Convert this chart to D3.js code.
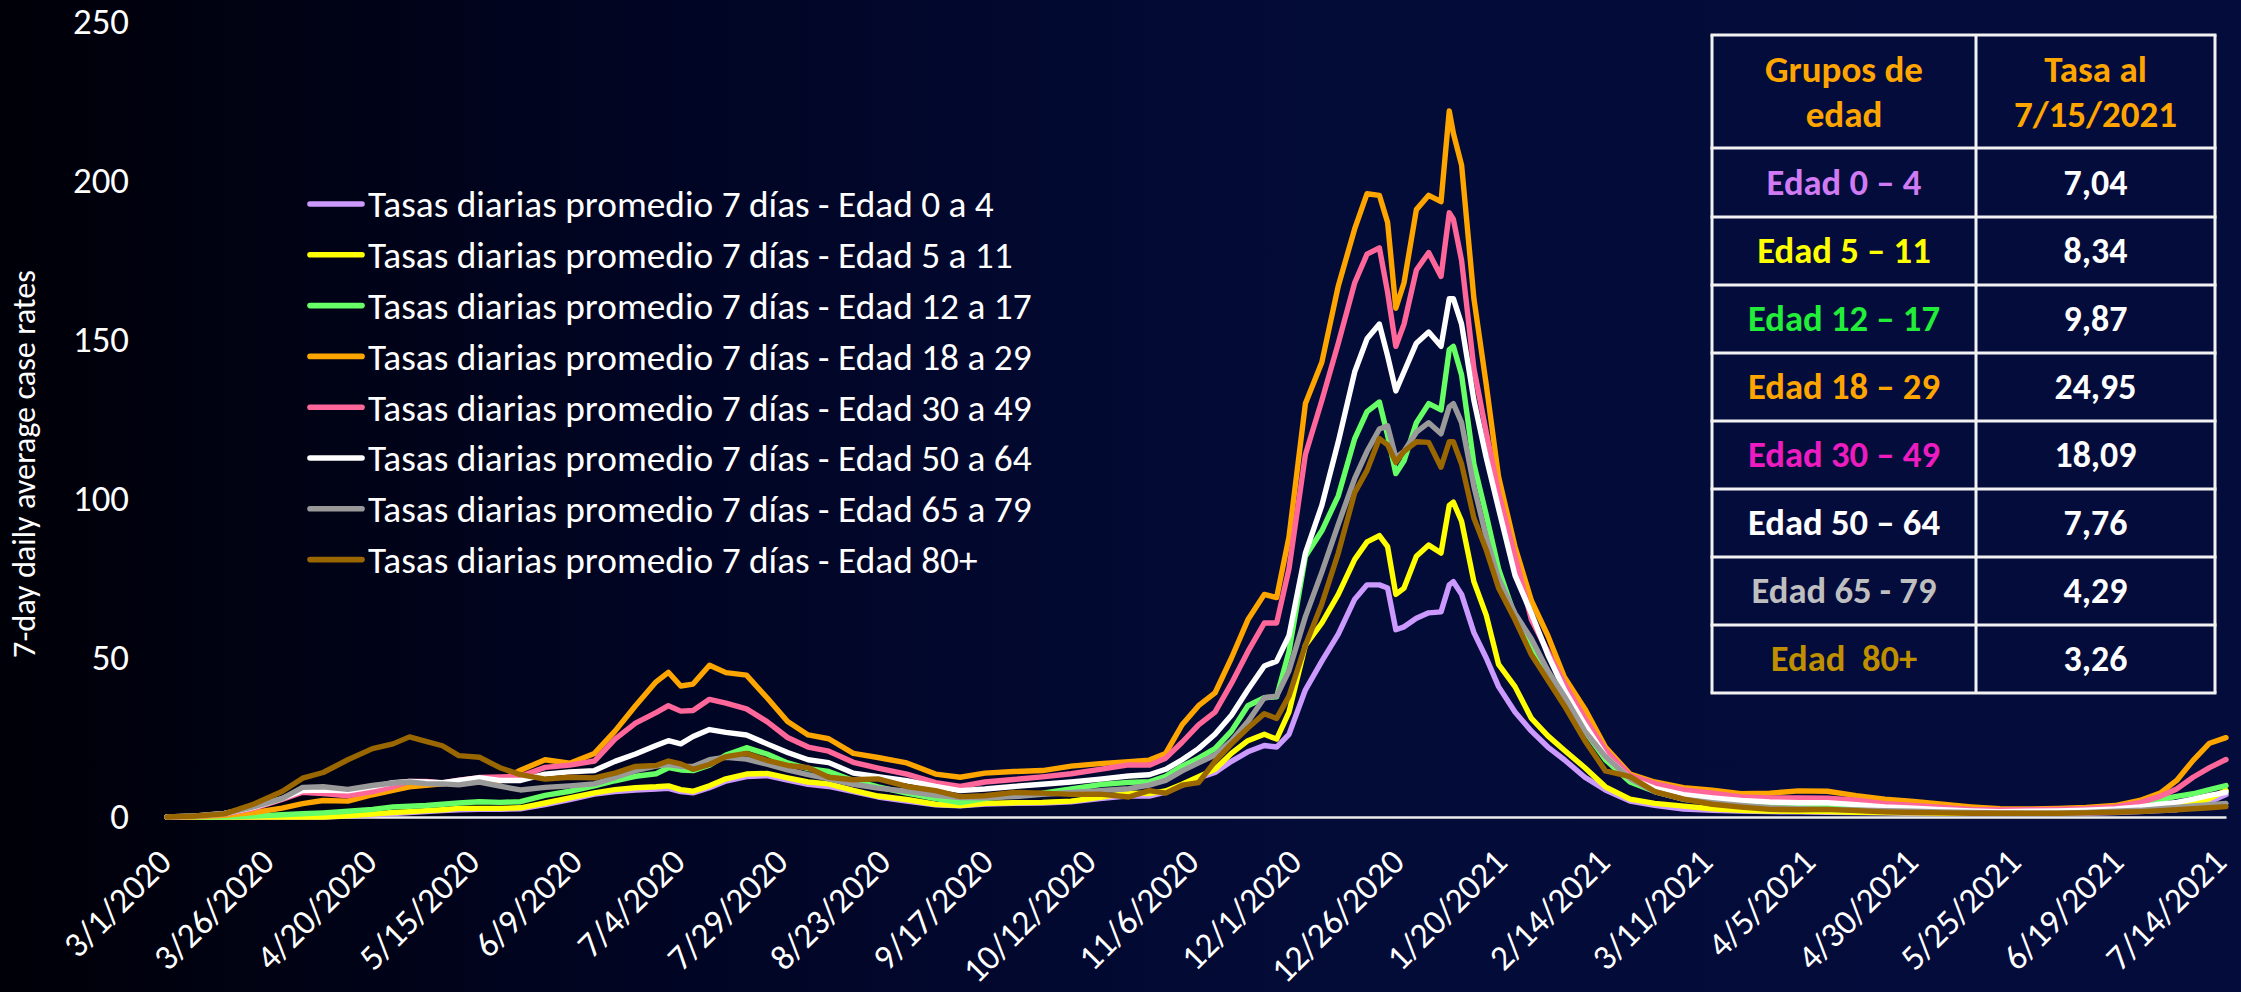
<!DOCTYPE html>
<html>
<head>
<meta charset="utf-8">
<script src="https://cdn.jsdelivr.net/npm/d3@7"></script>
<style>
  html, body { margin: 0; padding: 0; background: #000008; overflow: hidden; }
  text { font-family: Carlito, Lato, "Open Sans", sans-serif; }
</style>
</head>
<body>
<div id="chart"></div>
<script>
const W = 2241, H = 992;

// ---- data ----
const startDate = "3/1/2020";
const lastDate = "7/15/2021";
// days after 3/1/2020 for every sampled point
const dayOffsets = [0,7,14,21,28,33,38,44,50,55,
  59,63,67,71,76,81,86,92,98,104,
  109,114,119,122,125,128,132,136,141,146,
  151,156,161,167,173,180,187,193,199,206,
  213,220,227,234,239,243,247,251,255,259,
  263,267,270,273,277,281,285,289,292,295,
  297,299,301,304,307,310,312,313,315,318,
  321,324,328,332,336,340,345,350,356,362,
  369,376,383,390,397,404,411,418,425,432,
  439,446,453,460,467,474,480,485,489,493,
  497,501];

const age0to4 = [0,0,0,0,0,0,0,0.3,0.7,1.1,
  1.4,1.7,2,2.3,2.4,2.4,2.6,3.9,5.5,7.2,
  8,8.5,8.8,9,8,7.6,9.2,11.3,12.7,13,
  11.6,10.3,9.6,8,6.3,5,3.8,3.5,4.1,4.3,
  4.4,4.8,5.8,6.7,6.6,7.8,10,12.3,14,17.5,
  20.5,22.5,22,26,40,49,57.5,68.5,73,73,
  72,58.9,59.8,62.5,64.2,64.5,73,74,70,58,
  50,41,33,27,22,18,12.5,8.5,5,3.7,
  2.5,2.1,1.9,1.7,1.6,1.5,1.4,1.3,1.2,1.2,
  1.2,1.2,1.2,1.2,1.2,1.4,1.7,2,2.3,3.2,
  4.8,7.04];
const age5to11 = [0,0,0,0,0,0,0,0.4,0.9,1.4,
  1.7,2,2.3,2.7,2.7,2.7,2.9,4.4,6,7.6,
  8.6,9.2,9.5,9.8,8.6,8.1,9.8,12,13.5,13.7,
  12.3,11,10.4,8.4,6.6,5.5,4,3.6,4.3,4.5,
  4.6,5,6.2,7.5,7.4,8.2,10.3,12.7,15,20,
  24,26,24.5,33,54,61,70,81,86.5,88.5,
  85,70,72,82,85.5,83,98,99,93,74,
  63.5,48,41,31,25.5,21,15.5,9.5,5.6,4.3,
  3.4,2.6,2.1,1.9,1.8,1.7,1.5,1.4,1.3,1.2,
  1.2,1.2,1.3,1.4,1.6,1.8,2.3,2.8,3.3,4.2,
  5.8,8.34];
const age12to17 = [0,0,0.1,0.3,0.7,1,1.3,1.8,2.4,3.2,
  3.4,3.6,4,4.4,4.8,4.6,4.8,6.8,8.1,9.8,
  11.4,12.8,13.6,15.5,14.8,14.6,16.3,19.5,21.8,19.8,
  17,15.2,14.3,11.5,9.5,7.5,5.8,4.5,5.8,6.8,
  7.5,8.8,10.2,10.9,11.1,12.8,16,18.5,21.5,27,
  35,37.5,37.8,52,82,90,101,119,127.5,130.5,
  120,108,112,124,130,128,147,148,139,111,
  95,78,63,53,45,37,27,18,11,8,
  5.6,4.8,4.3,3.9,3.7,3.6,3.2,2.7,2.3,2,
  1.7,1.5,1.5,1.5,1.8,2.5,4,5.5,6.5,7.3,
  8.6,9.87];
const age18to29 = [0,0.1,0.5,1.4,2.8,4.2,5.2,5,7,8.4,
  9.5,10,10.4,11,11.7,11.3,14.7,18,16.9,20,
  27,35,42.5,45.5,41.2,41.8,47.7,45.4,44.6,37.5,
  30,25.8,24.6,20,18.7,17,13.5,12.5,13.8,14.3,
  14.6,16,16.8,17.4,17.9,20,29,35,39,50,
  62,70,69,88,130,143,167,185,196,195.5,
  187,160,168,191,195.5,193.5,222,215,205,163,
  136,107,85,68,57,44,34,22,13.5,11,
  9.2,8.4,7.3,7.5,8.2,8.1,6.7,5.6,4.9,4,
  3.2,2.6,2.5,2.7,3,3.6,5.2,7.5,11.5,17.8,
  23.2,24.95];
const age30to49 = [0,0.2,0.9,2.7,5.5,7.8,7.4,6.7,8,9.5,
  11.2,11.2,10.7,11.6,12.4,12.6,12.8,15.6,16.3,17.6,
  24.5,29.5,32.8,35,33.3,33.5,37,35.8,34,30,
  25,22,20.7,17.2,15.4,13.5,10.8,9.6,11,11.8,
  12.6,13.6,15,16.4,16.3,18.5,23.5,29,33,42,
  52,61,61,78,114,131,149,168,177,179,
  165,148,155,172,177.5,170,190,188,175,141,
  121,102,82,62,52,42,31,21,13,10.5,
  8.5,7.5,6.3,6,6,5.9,5.3,4.2,3.6,3,
  2.4,2.2,2.3,2.4,2.6,3.2,4.5,6.5,8.8,12.5,
  15.5,18.09];
const age50to64 = [0,0.3,1.1,3,5.8,8.3,8.5,8.2,9.5,10.8,
  11.2,11,10.8,11.5,12.4,11.5,11.5,13.5,14.2,14.6,
  17.5,19.8,22.5,24,23,25.3,27.5,26.6,25.8,23,
  20.3,18,17.1,13.8,12.7,11.4,9.6,8.3,8.8,9.6,
  10.3,11,11.9,12.9,13.3,15,18,21.5,26,32,
  40,47.5,49,57,83,98,118,140,150.4,155,
  145,134,140,149,152.5,148,163,163,155,131,
  113,97,76,64,51,40,29,19,12,9,
  7,6,5.2,4.7,4.5,4.5,3.9,3.2,2.8,2.3,
  1.9,1.7,1.8,1.9,2.1,2.5,3.2,4,4.6,5.6,
  6.8,7.76];
const age65to79 = [0,0.3,1.1,3.2,5.8,9.3,9.5,8.7,9.9,10.7,
  11,10.5,10.4,10.1,11,9.7,8.5,9.3,9.8,10.4,
  12.4,14.6,16,16.5,15.9,15.9,18,18.8,18.2,16.6,
  14.8,13.3,12,10.3,9.1,8.1,6.8,6.1,6,6.4,
  7.1,7.7,8.3,8.9,10,11.5,14.5,17,19.5,24,
  30,37.5,38,46,63,77,92,106.5,115,122,
  123,113,115,121,124,120.5,129,130,124,104,
  88,75,64,56,46,38,27,19,12,8,
  5.6,4.5,3.6,2.9,2.6,2.4,2.2,2,1.8,1.6,
  1.4,1.3,1.2,1.2,1.4,1.8,2.1,2.6,3,3.5,
  3.9,4.29];
const age80plus = [0,0.3,1,4,8,12.2,14,18,21.5,23,
  25.2,23.8,22.4,19.3,18.8,15.5,13.3,11.9,12.5,12.3,
  13.8,15.9,16.2,17.6,16.7,15,16.5,19,20,17.8,
  16.2,15.5,12.5,11.7,12,9.6,8.3,6.4,6.7,7.7,
  7.5,7.1,7.2,6.3,8.3,7.5,10,10.8,17.5,23,
  28,32.5,31,38,54,67,83,102,109,119,
  117,111.5,115,118,117.8,110,118,118,111,94,
  84,72,62,51,43,35,24,14.5,12.7,8,
  5.6,4,3.1,2.4,2.3,2.4,2,1.6,1.4,1.3,
  1.2,1.2,1.2,1.2,1.3,1.5,1.7,2,2.3,2.6,
  2.9,3.26];

const seriesNames = [
  "Tasas diarias promedio 7 días - Edad 0 a 4",
  "Tasas diarias promedio 7 días - Edad 5 a 11",
  "Tasas diarias promedio 7 días - Edad 12 a 17",
  "Tasas diarias promedio 7 días - Edad 18 a 29",
  "Tasas diarias promedio 7 días - Edad 30 a 49",
  "Tasas diarias promedio 7 días - Edad 50 a 64",
  "Tasas diarias promedio 7 días - Edad 65 a 79",
  "Tasas diarias promedio 7 días - Edad 80+"
];
const seriesValues = [age0to4, age5to11, age12to17, age18to29, age30to49, age50to64, age65to79, age80plus];
const seriesColors = ["#cc99ff", "#ffff00", "#66ff66", "#ffa500", "#ff6699", "#ffffff", "#999999", "#996600"];

const yTicks = [0, 50, 100, 150, 200, 250];
const xTickLabels = ["3/1/2020","3/26/2020","4/20/2020","5/15/2020","6/9/2020","7/4/2020","7/29/2020",
  "8/23/2020","9/17/2020","10/12/2020","11/6/2020","12/1/2020","12/26/2020","1/20/2021","2/14/2021",
  "3/11/2021","4/5/2021","4/30/2021","5/25/2021","6/19/2021","7/14/2021"];
const yTitle = "7-day daily average case rates";

const tableHead = [["Grupos de", "edad"], ["Tasa al", "7/15/2021"]];
const tableGroups = ["Edad 0 \u2013 4", "Edad 5 \u2013 11", "Edad 12 \u2013 17", "Edad 18 \u2013 29",
  "Edad 30 \u2013 49", "Edad 50 \u2013 64", "Edad 65 - 79", "Edad\u00a0 80+"];
const tableRates = ["7,04", "8,34", "9,87", "24,95", "18,09", "7,76", "4,29", "3,26"];
const tableColors = ["#d07bf3", "#ffff00", "#22ee3a", "#ffa500", "#ec1cc0", "#ffffff", "#bfbfbf", "#bf8f00"];

// ---- drawing ----
function draw() {
  const parse = d3.utcParse("%m/%d/%Y");
  const t0 = parse(startDate);

  const svg = d3.select("#chart").append("svg")
    .attr("width", W).attr("height", H);

  const grad = svg.append("defs").append("linearGradient")
    .attr("id", "bg").attr("x1", 0).attr("y1", 0).attr("x2", 1).attr("y2", 0);
  grad.append("stop").attr("offset", 0).attr("stop-color", "#000008");
  grad.append("stop").attr("offset", 0.3).attr("stop-color", "#010524");
  grad.append("stop").attr("offset", 0.58).attr("stop-color", "#030b37");
  grad.append("stop").attr("offset", 1).attr("stop-color", "#040c3c");
  svg.append("rect").attr("width", W).attr("height", H).attr("fill", "url(#bg)");

  const x = d3.scaleUtc().domain([t0, parse(lastDate)]).range([167, 2226]);
  const y = d3.scaleLinear().domain([0, 250]).range([817, 22]);

  // fit a font size so that a text node reaches the width measured in the picture
  function fit(sel, target) {
    const fs = parseFloat(sel.attr("font-size"));
    const w = sel.node().getComputedTextLength();
    return fs * target / w;
  }

  // y axis
  const yAxis = svg.append("g")
    .attr("transform", "translate(129,0)")
    .call(d3.axisLeft(y).tickValues(yTicks).tickSize(0).tickPadding(0));
  yAxis.select(".domain").remove();
  yAxis.selectAll("text").attr("fill", "#fff").attr("font-size", 34).attr("font-family", null);
  const ySize = fit(yAxis.selectAll("text").filter(d => d === 250), 56);
  yAxis.selectAll("text").attr("font-size", ySize);

  // y title
  const yt = svg.append("text")
    .attr("transform", "translate(35,464) rotate(-90)")
    .attr("text-anchor", "middle")
    .attr("fill", "#fff")
    .attr("font-size", 28)
    .text(yTitle);
  yt.attr("font-size", fit(yt, 388));

  // x axis
  const xAxis = svg.append("g")
    .attr("transform", "translate(0,817)")
    .call(d3.axisBottom(x)
      .tickValues(xTickLabels.map(parse))
      .tickFormat((d, i) => xTickLabels[i])
      .tickSize(0).tickSizeOuter(0));
  xAxis.select(".domain").attr("stroke", "#ececec").attr("stroke-width", 2.5);
  xAxis.selectAll("text")
    .attr("fill", "#fff")
    .attr("font-family", null)
    .attr("font-size", 33)
    .attr("text-anchor", "end")
    .attr("x", 0).attr("y", 0).attr("dy", 0)
    .attr("transform", "translate(6,47) rotate(-45)");
  const xSize = fit(xAxis.selectAll("text").filter((d, i) => i === 12), 171);
  xAxis.selectAll("text").attr("font-size", xSize);

  // lines
  const line = d3.line()
    .x((v, i) => x(d3.utcDay.offset(t0, dayOffsets[i])))
    .y(v => y(v));

  svg.append("g").selectAll("path")
    .data(seriesValues)
    .join("path")
      .attr("d", line)
      .attr("fill", "none")
      .attr("stroke", (d, i) => seriesColors[i])
      .attr("stroke-width", 5.4)
      .attr("stroke-linejoin", "round")
      .attr("stroke-linecap", "round");

  // legend
  const leg = svg.append("g").selectAll("g")
    .data(seriesNames)
    .join("g")
      .attr("transform", (d, i) => `translate(0,${204 + i * 50.8})`);
  leg.append("line")
    .attr("x1", 310).attr("x2", 362)
    .attr("stroke", (d, i) => seriesColors[i])
    .attr("stroke-width", 5.6)
    .attr("stroke-linecap", "round");
  const legText = leg.append("text")
    .attr("x", 368)
    .attr("fill", "#fff")
    .attr("font-size", 34)
    .text(d => d);
  const legSize = fit(legText.filter((d, i) => i === 3), 664);
  legText.attr("font-size", legSize).attr("y", legSize * 0.36);

  // table
  const colX = [1712, 1976, 2215];
  const rowY = [35, 148, 217, 285, 353, 421, 489, 557, 625, 693];
  const tbl = svg.append("g");
  tbl.append("rect")
    .attr("x", colX[0]).attr("y", rowY[0])
    .attr("width", colX[2] - colX[0]).attr("height", rowY[rowY.length - 1] - rowY[0])
    .attr("fill", "#040c3c");
  tbl.selectAll(".hline").data(rowY).join("line")
    .attr("x1", colX[0] - 1.5).attr("x2", colX[2] + 1.5)
    .attr("y1", d => d).attr("y2", d => d)
    .attr("stroke", "#f2f2f2").attr("stroke-width", 3);
  tbl.selectAll(".vline").data(colX).join("line")
    .attr("x1", d => d).attr("x2", d => d)
    .attr("y1", rowY[0]).attr("y2", rowY[rowY.length - 1])
    .attr("stroke", "#f2f2f2").attr("stroke-width", 3);

  const colMid = [(colX[0] + colX[1]) / 2, (colX[1] + colX[2]) / 2];

  const head = tbl.selectAll(".head").data(tableHead).join("text")
    .attr("text-anchor", "middle")
    .attr("fill", "#ffa500")
    .attr("font-weight", "bold")
    .attr("font-size", 34);
  head.selectAll("tspan").data(d => d).join("tspan")
    .attr("x", function () { return colMid[tableHead.indexOf(d3.select(this.parentNode).datum())]; })
    .attr("y", (d, i) => i === 0 ? 82 : 127)
    .text(d => d);
  const headRef = tbl.append("text").attr("font-weight", "bold").attr("font-size", 34).text(tableHead[0][0]);
  const headSize = fit(headRef, 158);
  headRef.remove();
  head.attr("font-size", headSize);

  const rowMid = tableGroups.map((d, i) => (rowY[i + 1] + rowY[i + 2]) / 2);
  const grp = tbl.selectAll(".grp").data(tableGroups).join("text")
    .attr("x", colMid[0])
    .attr("text-anchor", "middle")
    .attr("fill", (d, i) => tableColors[i])
    .attr("font-weight", "bold")
    .attr("font-size", 34)
    .text(d => d);
  const grpSize = fit(grp.filter((d, i) => i === 2), 192);
  grp.attr("font-size", grpSize).attr("y", (d, i) => rowMid[i] + grpSize * 0.34);

  const rate = tbl.selectAll(".rate").data(tableRates).join("text")
    .attr("x", colMid[1])
    .attr("text-anchor", "middle")
    .attr("fill", "#fff")
    .attr("font-weight", "bold")
    .attr("font-size", 34)
    .text(d => d);
  const rateSize = fit(rate.filter((d, i) => i === 3), 82);
  rate.attr("font-size", rateSize).attr("y", (d, i) => rowMid[i] + rateSize * 0.34);
}

if (document.fonts && document.fonts.ready) {
  document.fonts.ready.then(draw);
} else {
  draw();
}
</script>
</body>
</html>
